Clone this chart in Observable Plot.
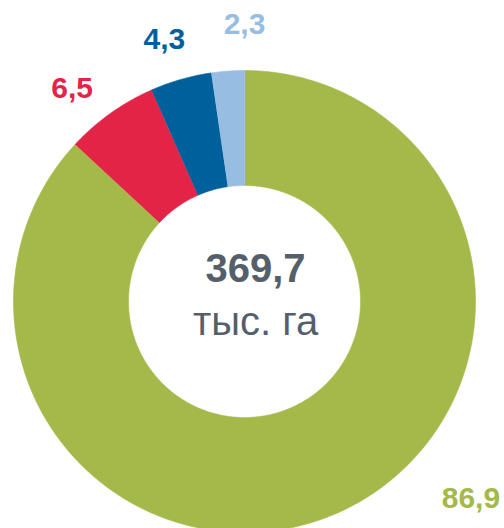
<!DOCTYPE html>
<html><head><meta charset="utf-8">
<script src="https://cdn.jsdelivr.net/npm/d3@7"></script>
<script src="https://cdn.jsdelivr.net/npm/@observablehq/plot@0.6"></script>
<style>html,body{margin:0;padding:0;background:#fff}</style>
</head><body><div id="chart"></div>
<script>
// ---- data ----
const categories = ["Категория 1", "Категория 2", "Категория 3", "Категория 4"];
const values = [86.9, 6.5, 4.3, 2.3];
const valueLabels = ["86,9", "6,5", "4,3", "2,3"];
const colors = ["#a4b94a", "#e42446", "#00609c", "#97bee2"];
const totalLabel = "369,7";
const unitLabel = "тыс. га";

// ---- layout ----
const W = 504, H = 528;
const cx = 244, cy = 301, R = 231, r0 = 116;
// label placement (polar, degrees clockwise from top, radius in px)
const labelPolar = [{a: 131, r: 300}, {a: 321, r: 274}, {a: 343, r: 274}, {a: 0, r: 277}];

const total = d3.sum(values);
let acc = 0;
const slices = values.map((v, i) => {
  const a0 = acc / total * 2 * Math.PI;
  acc += v;
  const a1 = acc / total * 2 * Math.PI;
  return {name: categories[i], value: v, a0, a1, i};
});

const pts = [];
for (const s of slices) {
  const n = Math.max(4, Math.ceil((s.a1 - s.a0) / (2 * Math.PI) * 720));
  for (let k = 0; k <= n; k++) {
    const a = s.a0 + (s.a1 - s.a0) * k / n;
    pts.push({name: s.name, x: R * Math.sin(a), y: R * Math.cos(a)});
  }
  for (let k = n; k >= 0; k--) {
    const a = s.a0 + (s.a1 - s.a0) * k / n;
    pts.push({name: s.name, x: r0 * Math.sin(a), y: r0 * Math.cos(a)});
  }
}

const labels = slices.map((s, i) => {
  const p = labelPolar[i];
  const a = p.a * Math.PI / 180;
  return {name: s.name, text: valueLabels[i], x: p.r * Math.sin(a), y: p.r * Math.cos(a)};
});

const chart = Plot.plot({
  width: W, height: H,
  margin: 0,
  x: {domain: [-cx, W - cx], axis: null},
  y: {domain: [-(H - cy), cy], axis: null},
  color: {domain: categories, range: colors},
  style: {fontFamily: "'Liberation Sans', Arial, sans-serif", background: "#fff"},
  marks: [
    Plot.line(pts, {x: "x", y: "y", z: "name", fill: "name", stroke: "name", strokeWidth: 0.6, curve: "linear"}),
    Plot.text(labels, {x: "x", y: "y", text: "text", fill: "name", fontSize: 30, fontWeight: "bold", textAnchor: "middle", lineAnchor: "middle"}),
    Plot.text([totalLabel], {x: () => 11, y: () => 32, text: d => d, fill: "#555f6b", fontSize: 40, fontWeight: "bold", textAnchor: "middle", lineAnchor: "middle"}),
    Plot.text([unitLabel], {x: () => 11, y: () => -21, text: d => d, fill: "#555f6b", fontSize: 40, textAnchor: "middle", lineAnchor: "middle"})
  ]
});
document.getElementById("chart").appendChild(chart);
</script>
</body></html>
